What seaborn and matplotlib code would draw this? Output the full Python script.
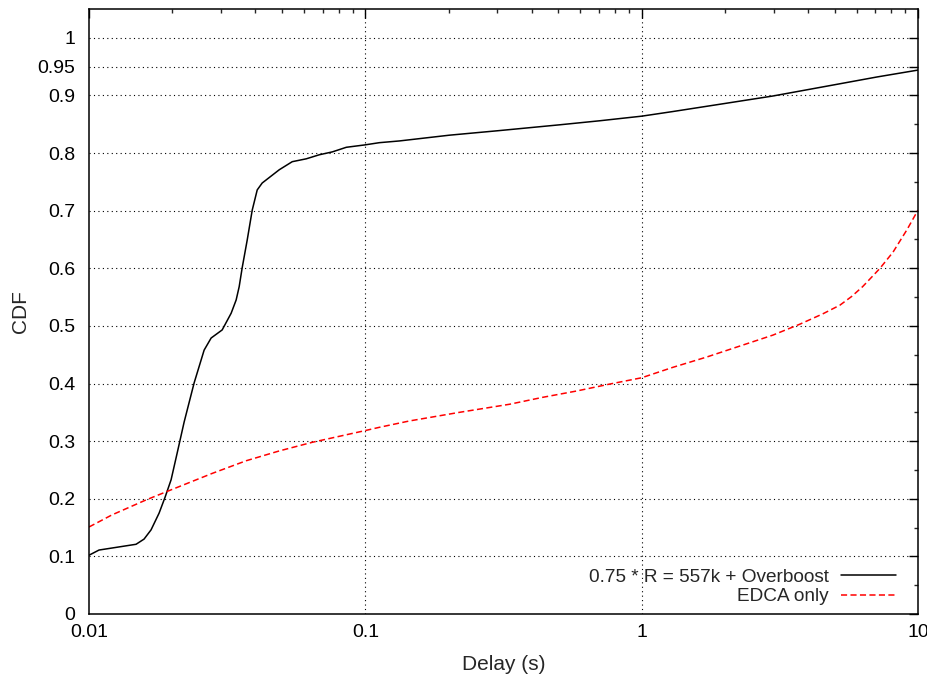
import numpy as np
import pandas as pd
import matplotlib
matplotlib.use("Agg")
import matplotlib.pyplot as plt
import seaborn as sns
from matplotlib.ticker import FixedLocator, LogLocator, NullFormatter, FixedFormatter

# ---- data ----
overboost_x = [0.01, 0.01087, 0.0148, 0.01582, 0.01677, 0.01793, 0.01886, 0.01982,
               0.02084, 0.02209, 0.02401, 0.0261, 0.02767, 0.03033, 0.03269, 0.03408,
               0.03495, 0.03584, 0.03737, 0.03897, 0.04062, 0.04234, 0.04881, 0.05438,
               0.06113, 0.06813, 0.07595, 0.08535, 0.09917, 0.1124, 0.1328, 0.2015,
               0.3058, 0.5046, 0.7045, 1.0, 1.295, 1.998, 2.984, 4.92, 7.1, 10.0]
overboost_y = [0.102, 0.111, 0.121, 0.130, 0.146, 0.175, 0.203, 0.233,
               0.279, 0.333, 0.401, 0.458, 0.479, 0.493, 0.522, 0.545,
               0.568, 0.601, 0.649, 0.701, 0.736, 0.748, 0.771, 0.785,
               0.790, 0.797, 0.802, 0.810, 0.814, 0.818, 0.821, 0.831,
               0.839, 0.849, 0.856, 0.864, 0.872, 0.886, 0.899, 0.918, 0.932, 0.944]

edca_x = [0.01, 0.01211, 0.01609, 0.01901, 0.02791, 0.03706, 0.0488, 0.06427,
          0.09917, 0.1124, 0.1443, 0.2191, 0.3324, 0.4379, 0.5813, 0.7656, 1.0,
          1.295, 1.72, 2.265, 2.984, 3.737, 4.527, 5.217, 5.75, 6.3, 6.871, 7.285,
          8.12, 9.124, 10.0]
edca_y = [0.151, 0.172, 0.198, 0.212, 0.244, 0.266, 0.283, 0.298,
          0.318, 0.324, 0.335, 0.350, 0.364, 0.376, 0.387, 0.399, 0.410,
          0.428, 0.446, 0.465, 0.484, 0.503, 0.521, 0.536, 0.551, 0.568, 0.587, 0.600,
          0.628, 0.667, 0.701]

labels = ["0.75 * R = 557k + Overboost", "EDCA only"]
y_ticks = [0, 0.1, 0.2, 0.3, 0.4, 0.5, 0.6, 0.7, 0.8, 0.9, 0.95, 1]
y_ticklabels = ["0", "0.1", "0.2", "0.3", "0.4", "0.5", "0.6", "0.7", "0.8", "0.9", "0.95", "1"]
x_ticks = [0.01, 0.1, 1, 10]
x_ticklabels = ["0.01", "0.1", "1", "10"]

df = pd.concat([
    pd.DataFrame({"x": overboost_x, "y": overboost_y, "series": labels[0]}),
    pd.DataFrame({"x": edca_x, "y": edca_y, "series": labels[1]}),
])

sns.set_style("white")
plt.rcParams["font.family"] = ["Liberation Sans", "DejaVu Sans"]

fig = plt.figure(figsize=(9.28, 6.75), dpi=100)
ax = fig.add_axes([89 / 928, 61 / 675, 829 / 928, 605 / 675])

sns.lineplot(data=df[df.series == labels[0]], x="x", y="y", ax=ax, color="black",
             linewidth=1.1, label=labels[0], estimator=None)
sns.lineplot(data=df[df.series == labels[1]], x="x", y="y", ax=ax, color="#ff0000",
             linewidth=1.1, label=labels[1], estimator=None, dashes=False)
ax.lines[1].set_dashes((4, 2.2))

ax.set_xscale("log")
ax.set_xlim(0.01, 10)
ax.set_ylim(0, 1.05)

ax.xaxis.set_major_locator(FixedLocator(x_ticks))
ax.xaxis.set_major_formatter(FixedFormatter(x_ticklabels))
ax.xaxis.set_minor_locator(LogLocator(base=10, subs=np.arange(2, 10)))
ax.xaxis.set_minor_formatter(NullFormatter())

ax.yaxis.set_major_locator(FixedLocator(y_ticks))
ax.yaxis.set_major_formatter(FixedFormatter(y_ticklabels))
ax.yaxis.set_minor_locator(FixedLocator([0.05, 0.15, 0.25, 0.35, 0.45, 0.55, 0.65, 0.75, 0.85]))

ax.tick_params(axis="both", which="major", direction="in", length=6.5, width=1,
               top=True, right=True, labelsize=14, colors="black")
ax.tick_params(axis="both", which="minor", direction="in", length=3.2, width=1,
               top=True, right=True)
ax.tick_params(axis="y", which="major", pad=10)
ax.tick_params(axis="x", which="major", pad=7)

for s in ax.spines.values():
    s.set_visible(True)
    s.set_linewidth(1.1)
    s.set_color("black")

# grid
for yv in y_ticks[1:]:
    ax.axhline(yv, color="black", linestyle=(0, (1, 3)), linewidth=0.8, zorder=0)
for xv in [0.1, 1]:
    ax.axvline(xv, color="black", linestyle=(0, (1, 3)), linewidth=0.8, zorder=0)

ax.set_xlabel("Delay (s)", fontsize=15, labelpad=10)
ax.set_ylabel("CDF", fontsize=15, labelpad=5.5)

leg = ax.legend(loc="lower right", frameon=False, fontsize=13.7, markerfirst=False,
                handlelength=2.9, handletextpad=0.6, labelspacing=0.1,
                bbox_to_anchor=(0.988, -0.006), borderaxespad=0.25)

fig.savefig("out.png", dpi=100, facecolor="white")
